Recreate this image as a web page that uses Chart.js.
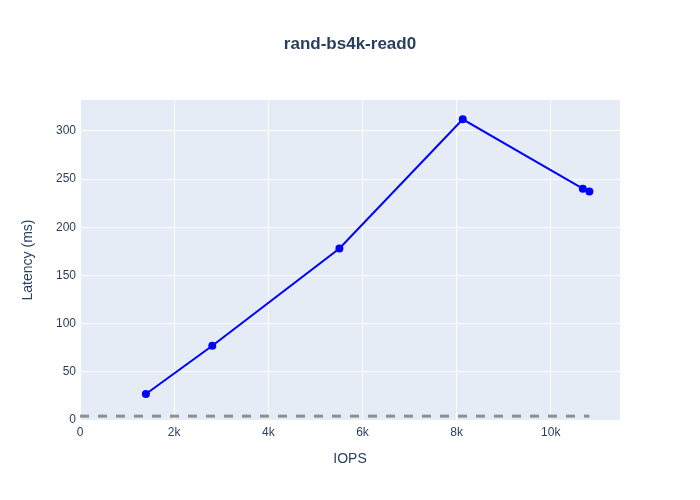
<!DOCTYPE html>
<html>
<head>
<meta charset="utf-8">
<script src="https://cdn.jsdelivr.net/npm/chart.js@4.4.1/dist/chart.umd.min.js"></script>
<style>
  html, body { margin: 0; padding: 0; background: #ffffff; }
  #wrap { width: 700px; height: 500px; position: relative; }
</style>
</head>
<body>
<div id="wrap"><canvas id="c" width="700" height="500"></canvas></div>
<script>
const chartTitle = "rand-bs4k-read0";
const xTitle = "IOPS";
const yTitle = "Latency (ms)";

const iops = [1400, 2810, 5510, 8130, 10680, 10820];
const latency = [27, 77, 178, 312, 240, 237];

const baselineIops = [0, 10820];
const baselineLatency = [4, 4];

const xTickValues = [0, 2000, 4000, 6000, 8000, 10000];
const xTickLabels = ['0', '2k', '4k', '6k', '8k', '10k'];
const yTickValues = [0, 50, 100, 150, 200, 250, 300];
const yTickLabels = ['0', '50', '100', '150', '200', '250', '300'];

const xRange = [0, 11470];
const yRange = [0, 332];

const toPoints = (xs, ys) => xs.map((x, i) => ({ x: x, y: ys[i] }));

const textColor = '#2a3f5f';
const fontFamily = '"Liberation Sans", Arial, sans-serif';

const bgPlugin = {
  id: 'plotBg',
  beforeDraw(chart) {
    const { ctx, chartArea: a } = chart;
    ctx.save();
    ctx.fillStyle = '#E5ECF6';
    ctx.fillRect(a.left, a.top, a.right - a.left, a.bottom - a.top);
    ctx.restore();
  }
};

const titlePlugin = {
  id: 'mainTitle',
  afterDraw(chart) {
    const ctx = chart.ctx;
    ctx.save();
    ctx.font = 'bold 17px ' + fontFamily;
    ctx.fillStyle = textColor;
    ctx.textAlign = 'center';
    ctx.textBaseline = 'middle';
    ctx.fillText(chartTitle, 350, 44);
    ctx.restore();
  }
};

Chart.defaults.font.family = fontFamily;
Chart.defaults.color = textColor;

function labelFor(values, labels, v) {
  const i = values.indexOf(v);
  return i >= 0 ? labels[i] : '';
}

new Chart(document.getElementById('c'), {
  type: 'scatter',
  data: {
    datasets: [
      {
        data: toPoints(iops, latency),
        showLine: true,
        borderColor: '#0000ff',
        backgroundColor: '#0000ff',
        borderWidth: 2,
        pointRadius: 3,
        pointHoverRadius: 3,
        tension: 0
      },
      {
        data: toPoints(baselineIops, baselineLatency),
        showLine: true,
        borderColor: '#8f8f8f',
        backgroundColor: '#8f8f8f',
        borderWidth: 3,
        borderDash: [9, 9],
        pointRadius: 0,
        tension: 0
      }
    ]
  },
  options: {
    responsive: false,
    animation: false,
    layout: { padding: { left: 0, right: 80, top: 100, bottom: 0 } },
    plugins: {
      legend: { display: false },
      tooltip: { enabled: false },
      title: { display: false }
    },
    scales: {
      x: {
        type: 'linear',
        min: xRange[0],
        max: xRange[1],
        border: { display: false },
        grid: { color: '#ffffff', lineWidth: 1, drawTicks: false },
        ticks: {
          autoSkip: false,
          padding: 5,
          maxRotation: 0,
          minRotation: 0,
          font: { size: 12 },
          color: textColor,
          callback: (v) => labelFor(xTickValues, xTickLabels, v)
        },
        afterBuildTicks: (s) => { s.ticks = xTickValues.map(v => ({ value: v })); },
        afterFit: (s) => { s.height = 80; },
        title: {
          display: true,
          text: xTitle,
          font: { size: 14 },
          color: textColor,
          padding: { top: 0, bottom: 32 }
        }
      },
      y: {
        type: 'linear',
        min: yRange[0],
        max: yRange[1],
        border: { display: false },
        grid: { color: '#ffffff', lineWidth: 1, drawTicks: false },
        ticks: {
          autoSkip: false,
          padding: 4,
          font: { size: 12 },
          color: textColor,
          callback: (v) => labelFor(yTickValues, yTickLabels, v)
        },
        afterBuildTicks: (s) => { s.ticks = yTickValues.map(v => ({ value: v })); },
        afterFit: (s) => { s.width = 80; },
        title: {
          display: true,
          text: yTitle,
          font: { size: 14 },
          color: textColor,
          padding: { top: 20, bottom: 0 }
        }
      }
    }
  },
  plugins: [bgPlugin, titlePlugin]
});
</script>
</body>
</html>
